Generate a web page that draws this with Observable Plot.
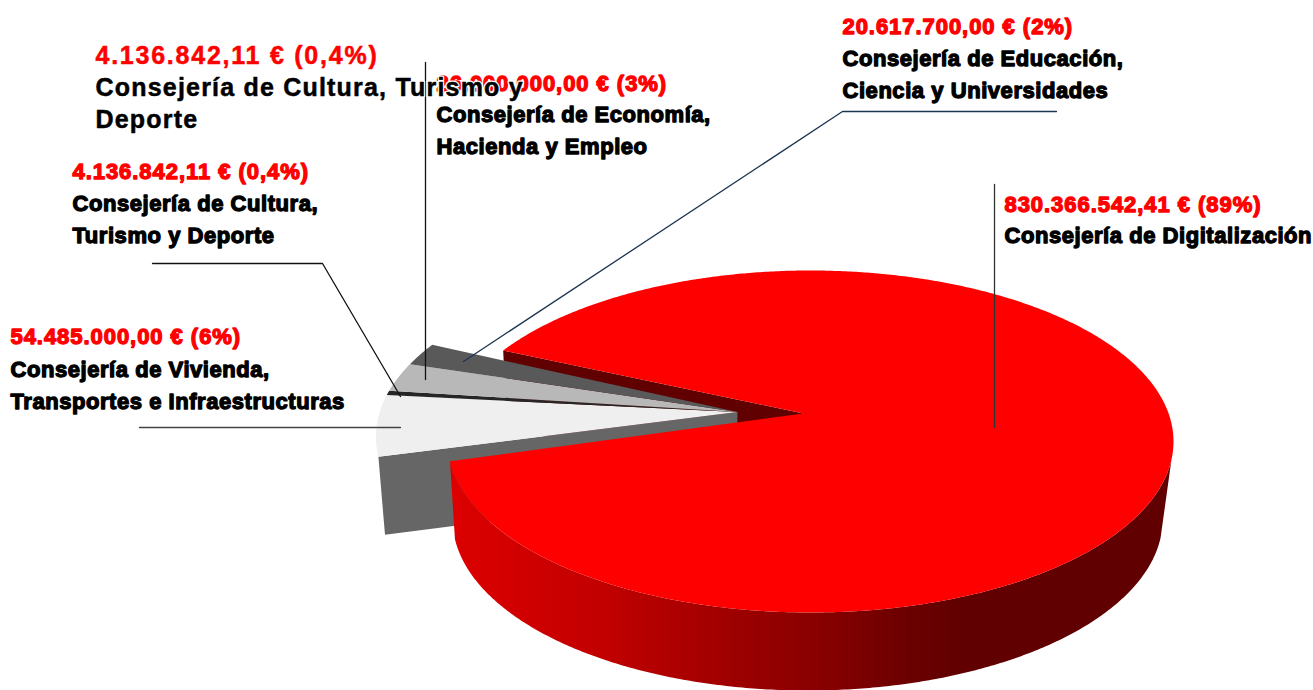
<!DOCTYPE html>
<html lang="es">
<head>
<meta charset="utf-8">
<script src="https://cdn.jsdelivr.net/npm/d3@7"></script>
<script src="https://cdn.jsdelivr.net/npm/@observablehq/plot@0.6"></script>
<style>
html,body{margin:0;padding:0;background:#fff;overflow:hidden}
svg{display:block}
g[font-size="22"] text{letter-spacing:0.55px}
g[font-size="22"][fill="#ff0000"] text{letter-spacing:0.95px}
g[font-size="25"] text{letter-spacing:1.2px}
g[font-size="25"][fill="#ff0000"] text{letter-spacing:1.76px}
</style>
</head>
<body>
<div id="chart"></div>
<script>
// --- data
const consejerias = ["Digitalización", "Vivienda", "Cultura", "Economía", "Educación"];
const importes = [830366542.41, 54485000, 4136842.11, 26000000, 20617700];
const porcentajes = ["89%", "6%", "0,4%", "3%", "2%"];
const colores = ["#ff0000", "#efefef", "#262626", "#b8b8b8", "#595959"];
const nombres = [
  ["Consejería de Digitalización"],
  ["Consejería de Vivienda,", "Transportes e Infraestructuras"],
  ["Consejería de Cultura,", "Turismo y Deporte"],
  ["Consejería de Economía,", "Hacienda y Empleo"],
  ["Consejería de Educación,", "Ciencia y Universidades"]
];
const tituloGrande = ["Consejería de Cultura, Turismo y", "Deporte"];

// --- layout
const W = 1313, H = 690;
const etiquetaX = [1004, 10, 72, 436, 842];
const etiquetaY = [204, 336, 171, 83, 26];
const nombreY = [235, 369, 203, 114, 58];
const interlinea = 32.3;
const grandeX = 95, grandeY = [55, 87, 119];
const guias = [
  {color: "#333", pts: [[994,184],[994,427]]},
  {color: "#444", pts: [[139,427],[400,427]]},
  {color: "#111", pts: [[152,263],[322,263],[400,396]]},
  {color: "#111", pts: [[425,62],[425,379]]},
  {color: "#1c3550", pts: [[1056,111],[842,111],[463,361]]}
];

// --- perspective pie geometry
const ell = {x: 810, y: 441, rx: 363, ry: 171};
const apice = [803, 413], apiceMenor = [737, 411.5], kMenor = 1.01, desvioMenor = [-2, -3.5];
const giro = 204.35 * Math.PI / 180;
const profundidad = 78, fugaA = 14.9, fugaB = 0.978;
const A = [(apice[0]-ell.x)/ell.rx, (apice[1]-ell.y)/ell.ry];
const s = 1 + Math.sqrt(1 - A[0]*A[0] - A[1]*A[1]);
const a = [A[0]/s, A[1]/s];
function borde(t) {
  const c = Math.cos(t), n = Math.sin(t);
  const nr = c + a[0], ni = n + a[1];
  const dr = 1 + a[0]*c + a[1]*n, di = a[0]*n - a[1]*c;
  const q = dr*dr + di*di;
  return [ell.x + ell.rx*(nr*dr + ni*di)/q, ell.y + ell.ry*(ni*dr - nr*di)/q];
}
const bordeMenor = t => {
  const p = borde(t);
  return [apiceMenor[0] + desvioMenor[0] + kMenor*(p[0]-apice[0]), apiceMenor[1] + desvioMenor[1] + kMenor*(p[1]-apice[1])];
};
const abajo = p => [fugaA + fugaB*p[0], p[1] + profundidad];
const arco = (f, t0, t1) => {
  const n = Math.max(2, Math.ceil(Math.abs(t1-t0) / (0.5*Math.PI/180)));
  return d3.range(n+1).map(i => f(t0 + (t1-t0)*i/n));
};
const arcos = d3.pie().sort(null).value(d => d).startAngle(giro).endAngle(giro + 2*Math.PI)(importes);

// shading of the side wall, left to right
const sombraX = [457, 600, 725, 820, 900, 960];
const sombraC = ["#dc0000", "#c20000", "#a00000", "#880000", "#6e0000", "#600000"];

const caras = [], muros = [];
const poly = (lista, id, color, pts) => pts.forEach(([x,y]) => lista.push({x, y, id, color}));
const r = arcos[0];
// far cut wall of the large slice
poly(muros, "rf", "#600000", [apice, borde(r.startAngle), abajo(borde(r.startAngle)), abajo(apice)]);
// near cut wall of the small slices
const v = arcos[1];
poly(muros, "vf", "#666666", [apiceMenor, bordeMenor(v.startAngle), abajo(bordeMenor(v.startAngle)), abajo(apiceMenor)]);
// small slices
arcos.slice(1).forEach((d, i) => poly(caras, "s"+i, colores[i+1], [apiceMenor, ...arco(bordeMenor, d.startAngle, d.endAngle)]));
// rim wall of the large slice
const paso = arco(borde, r.startAngle, r.endAngle);
const frente = paso.filter(p => p[1] >= 458);
const muroRojo = [...frente, ...frente.slice().reverse().map(abajo)].map(([x,y]) => ({x, y}));
const caraRoja = [];
poly(caraRoja, "r", colores[0], [apice, ...paso]);

// --- labels
const fmt = d3.formatLocale({decimal: ",", thousands: ".", grouping: [3], currency: ["", " €"]}).format(",.2f");
const textoImporte = i => `${fmt(importes[i])} € (${porcentajes[i]})`;
const rojos = importes.map((_, i) => ({x: etiquetaX[i], y: etiquetaY[i], t: textoImporte(i)}));
const negros = nombres.flatMap((ls, i) => ls.map((t, j) => ({x: etiquetaX[i], y: nombreY[i] + interlinea*j, t})));
const grandeRojo = [{x: grandeX, y: grandeY[0], t: textoImporte(2)}];
const grandeNegro = tituloGrande.map((t, j) => ({x: grandeX, y: grandeY[j+1], t}));
const lineas = guias.flatMap((g, i) => g.pts.map(([x,y]) => ({x, y, id: i, color: g.color})));

const relleno = (datos) => Plot.line(datos, {x: "x", y: "y", z: "id", fill: "color", stroke: "none", curve: "linear-closed"});
const fuente = "'Liberation Sans', Arial, sans-serif";
const base = {x: "x", y: "y", text: "t", textAnchor: "start", lineAnchor: "middle", fontWeight: 700, fontFamily: fuente};
const degradado = () => {
  const g = d3.create("svg:g");
  const lg = g.append("defs").append("linearGradient").attr("id", "ladoRojo")
    .attr("gradientUnits", "userSpaceOnUse")
    .attr("x1", sombraX[0]).attr("x2", sombraX[sombraX.length-1]).attr("y1", 0).attr("y2", 0);
  sombraX.forEach((x, i) => lg.append("stop")
    .attr("offset", (x - sombraX[0]) / (sombraX[sombraX.length-1] - sombraX[0]))
    .attr("stop-color", sombraC[i]));
  return g.node();
};
const plot = Plot.plot({
  width: W, height: H, margin: 0,
  x: {domain: [0, W], range: [0, W], axis: null},
  y: {domain: [0, H], range: [0, H], axis: null},
  color: {type: "identity"},
  style: {background: "#fff"},
  marks: [
    degradado,
    relleno(muros),
    relleno(caras),
    Plot.line(muroRojo, {x: "x", y: "y", fill: "url(#ladoRojo)", stroke: "none", curve: "linear-closed"}),
    relleno(caraRoja),
    Plot.line(lineas, {x: "x", y: "y", z: "id", stroke: "color", strokeWidth: 1.3, curve: "linear"}),
    Plot.text(rojos, {...base, fill: "#ff0000", stroke: "#ff0000", strokeWidth: 1.3, fontSize: 22}),
    Plot.text(negros, {...base, fill: "#000", stroke: "#000", strokeWidth: 1.3, fontSize: 22}),
    Plot.text(grandeRojo, {...base, fill: "#ff0000", stroke: "#ff0000", strokeWidth: 0.5, fontSize: 25}),
    Plot.text(grandeNegro, {...base, fill: "none", stroke: "#fff", strokeWidth: 3, fontSize: 25}),
    Plot.text(grandeNegro, {...base, fill: "#000", stroke: "#000", strokeWidth: 0.5, fontSize: 25})
  ]
});
document.getElementById("chart").appendChild(plot);
</script>
</body>
</html>
